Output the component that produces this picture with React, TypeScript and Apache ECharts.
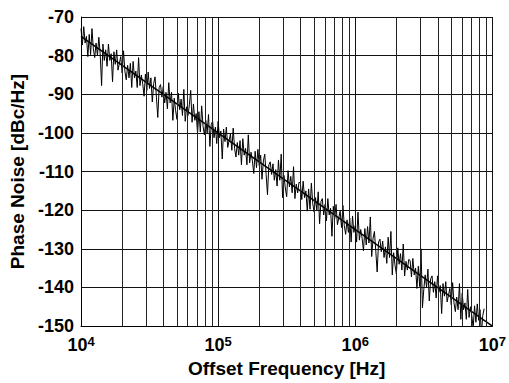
import React, { useEffect, useRef } from "react";
import * as echarts from "echarts";

// mantissas of the measurement frequencies (100 points per decade), and the decades
const mantissas = [
  1.000, 1.023, 1.047, 1.072, 1.096, 1.122, 1.148, 1.175, 1.202, 1.230, 1.259, 1.288, 1.318, 1.349, 1.380, 1.413, 1.445, 1.479, 1.514, 1.549,
  1.585, 1.622, 1.660, 1.698, 1.738, 1.778, 1.820, 1.862, 1.905, 1.950, 1.995, 2.042, 2.089, 2.138, 2.188, 2.239, 2.291, 2.344, 2.399, 2.455,
  2.512, 2.570, 2.630, 2.692, 2.754, 2.818, 2.884, 2.951, 3.020, 3.090, 3.162, 3.236, 3.311, 3.388, 3.467, 3.548, 3.631, 3.715, 3.802, 3.890,
  3.981, 4.074, 4.169, 4.266, 4.365, 4.467, 4.571, 4.677, 4.786, 4.898, 5.012, 5.129, 5.248, 5.370, 5.495, 5.623, 5.754, 5.888, 6.026, 6.166,
  6.310, 6.457, 6.607, 6.761, 6.918, 7.079, 7.244, 7.413, 7.586, 7.762, 7.943, 8.128, 8.318, 8.511, 8.710, 8.913, 9.120, 9.333, 9.550, 9.772,
];
const decades = [10000, 100000, 1000000];

const measuredNoise = [
  -73, -77.25, -72.5, -76.75, -75, -80.25, -74.5, -79.75, -73, -78.25,
  -80.5, -76.75, -80, -75.25, -79.5, -87.75, -77, -81.25, -78.5, -82.75,
  -77, -81.25, -79.5, -86.75, -79, -82.25, -78.5, -83.75, -82, -80.25,
  -84.5, -78.75, -84, -86.25, -82.5, -85.75, -82, -88.25, -81.5, -85.75,
  -84, -88.25, -80.5, -87.75, -85, -87.25, -90.5, -84.75, -89, -84.25,
  -88.5, -85.75, -92, -87.25, -85.5, -90.75, -96, -88.25, -87.5, -90.75,
  -88, -92.25, -89.5, -93.75, -87, -92.25, -89.5, -96.75, -91, -94.25,
  -96.5, -89.75, -94, -91.25, -95.5, -88.75, -97, -93.25, -95.5, -92.75,
  -89, -97.25, -92.5, -96.75, -95, -100.25, -94.5, -99.75, -93, -98.25,
  -100.5, -96.75, -100, -95.25, -103.5, -97.75, -97, -101.25, -98.5, -102.75,
  -97, -101.25, -99.5, -106.75, -99, -102.25, -98.5, -103.75, -102, -100.25,
  -104.5, -98.75, -104, -106.25, -102.5, -105.75, -102, -108.25, -101.5, -105.75,
  -104, -108.25, -100.5, -107.75, -105, -107.25, -110.5, -104.75, -109, -104.25,
  -108.5, -105.75, -112, -107.25, -105.5, -110.75, -116, -108.25, -107.5, -110.75,
  -108, -112.25, -109.5, -113.75, -107, -112.25, -105.5, -116.75, -111, -114.25,
  -116.5, -109.75, -114, -111.25, -115.5, -108.75, -117, -113.25, -115.5, -112.75,
  -113, -117.25, -112.5, -116.75, -115, -120.25, -114.5, -119.75, -113, -118.25,
  -120.5, -116.75, -120, -115.25, -123.5, -117.75, -117, -121.25, -118.5, -122.75,
  -117, -121.25, -119.5, -126.75, -119, -122.25, -118.5, -123.75, -122, -120.25,
  -124.5, -118.75, -124, -126.25, -122.5, -125.75, -122, -128.25, -121.5, -125.75,
  -124, -128.25, -120.5, -127.75, -125, -127.25, -130.5, -124.75, -129, -124.25,
  -128.5, -121.75, -132, -127.25, -125.5, -130.75, -136, -128.25, -127.5, -130.75,
  -128, -132.25, -129.5, -133.75, -127, -132.25, -125.5, -136.75, -131, -134.25,
  -136.5, -129.75, -134, -131.25, -135.5, -128.75, -137, -133.25, -135.5, -132.75,
  -133, -137.25, -132.5, -136.75, -135, -140.25, -134.5, -139.75, -130, -145.25,
  -140.5, -136.75, -140, -135.25, -143.5, -137.75, -137, -141.25, -138.5, -142.75,
  -137, -141.25, -139.5, -146.75, -139, -142.25, -138.5, -143.75, -142, -140.25,
  -144.5, -138.75, -144, -146.25, -142.5, -145.75, -139, -148.25, -141.5, -145.75,
  -144, -148.25, -140.5, -147.75, -145, -147.25, -150.5, -144.75, -149, -144.25,
  -148.5, -145.75, -152, -147.25, -145.5,
];

const fitFrequencies = [10000, 10000000];
const fitNoise = [-75, -150];

const minorGridFrequencies = [
  20000, 30000, 40000, 50000, 60000, 70000, 80000, 90000,
  200000, 300000, 400000, 500000, 600000, 700000, 800000, 900000,
  2000000, 3000000, 4000000, 5000000, 6000000, 7000000, 8000000, 9000000,
];

const yTicks = { min: -150, max: -70, interval: 10 };
const xRange = { min: 10000, max: 10000000 };

const FONT = "'Liberation Sans', Arial, Helvetica, sans-serif";

export default function App() {
  const ref = useRef<HTMLDivElement>(null);
  useEffect(() => {
    document.body.style.margin = "0";
    if (!ref.current) return;
    const chart = echarts.init(ref.current, undefined, { renderer: "svg" });
    const frequencies = decades.flatMap((d) => mantissas.map((m) => Math.round(m * d)));
    const measured = measuredNoise.map((v, i) => [frequencies[i], v]);
    const fit = fitFrequencies.map((f, i) => [f, fitNoise[i]]);
    chart.setOption({
      animation: false,
      backgroundColor: "#ffffff",
      grid: { left: 81, right: 13, top: 17, bottom: 51 },
      xAxis: {
        type: "log",
        logBase: 10,
        min: xRange.min,
        max: xRange.max,
        name: "Offset Frequency [Hz]",
        nameLocation: "middle",
        nameGap: 31,
        nameTextStyle: { fontFamily: FONT, fontWeight: "bold", fontSize: 19, color: "#000" },
        axisLine: { show: true, lineStyle: { color: "#000", width: 1 } },
        axisTick: { show: false },
        minorTick: { show: false },
        splitLine: { show: true, lineStyle: { color: "#111", width: 1 } },
        axisLabel: {
          margin: 9,
          formatter: (v: number) => {
            const e = Math.round(Math.log10(v));
            return `{b|10}{s|${e}}`;
          },
          rich: {
            b: { fontFamily: FONT, fontWeight: "bold", fontSize: 18, color: "#000", lineHeight: 20 },
            s: { fontFamily: FONT, fontWeight: "bold", fontSize: 13, color: "#000", verticalAlign: "top", lineHeight: 12 },
          },
        },
      },
      yAxis: {
        type: "value",
        min: yTicks.min,
        max: yTicks.max,
        interval: yTicks.interval,
        name: "Phase Noise [dBc/Hz]",
        nameLocation: "middle",
        nameGap: 53,
        nameTextStyle: { fontFamily: FONT, fontWeight: "bold", fontSize: 19, color: "#000" },
        axisLine: { show: true, lineStyle: { color: "#000", width: 1 } },
        axisTick: { show: false },
        splitLine: { show: true, lineStyle: { color: "#111", width: 1 } },
        axisLabel: { margin: 7, fontFamily: FONT, fontWeight: "bold", fontSize: 18, color: "#000" },
      },
      series: [
        {
          type: "line",
          data: fit,
          symbol: "none",
          lineStyle: { color: "#000", width: 1.5 },
          silent: true,
          markLine: {
            silent: true,
            symbol: "none",
            label: { show: false },
            lineStyle: { color: "#222", width: 1, type: "solid" },
            data: minorGridFrequencies.map((f) => ({ xAxis: f })),
          },
        },
        {
          type: "line",
          data: measured,
          symbol: "none",
          lineStyle: { color: "#000", width: 1 },
          silent: true,
        },
      ],
    });
    return () => chart.dispose();
  }, []);
  return <div ref={ref} style={{ width: 509, height: 383 }} />;
}
